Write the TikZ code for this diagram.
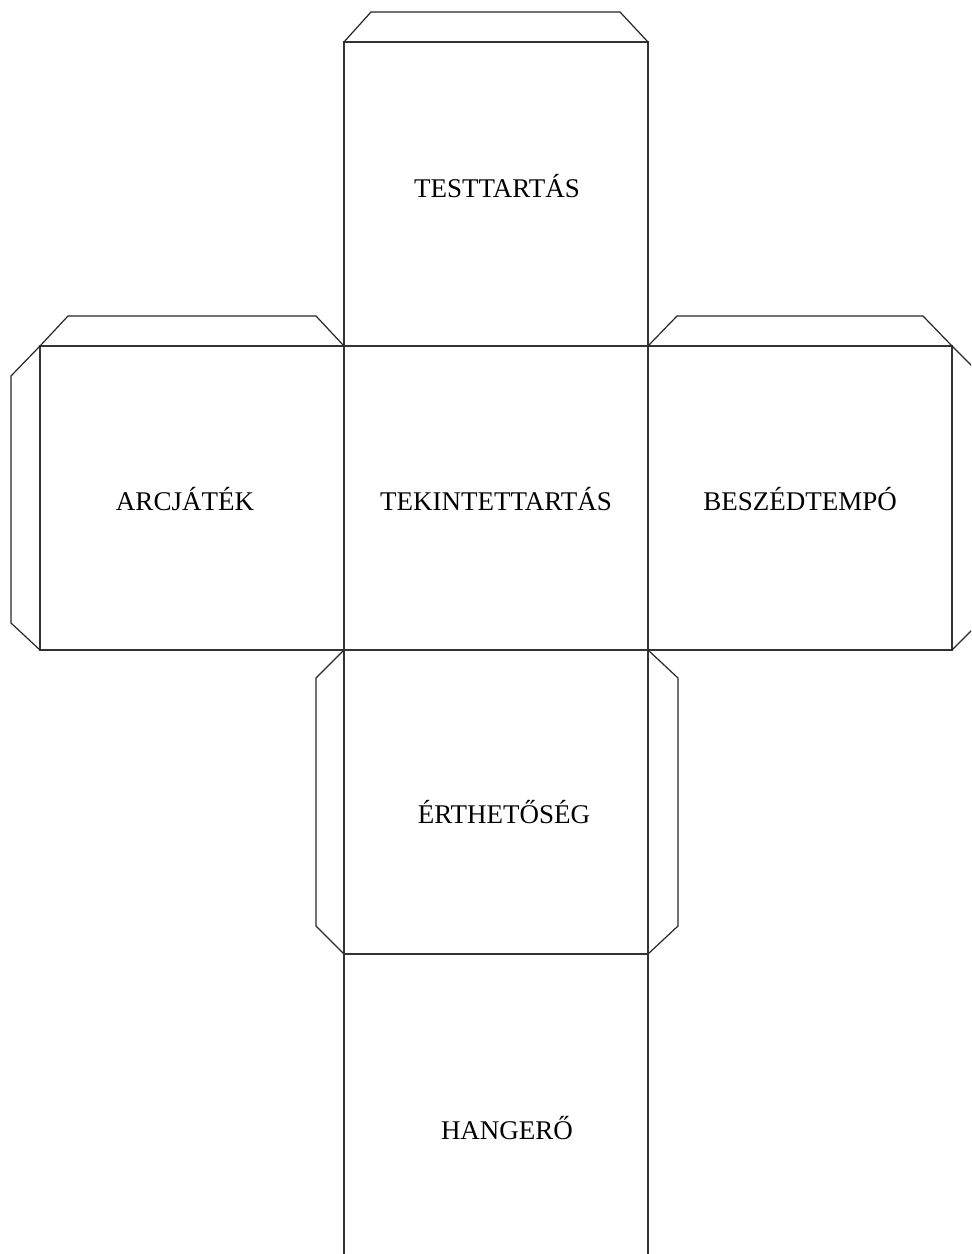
\documentclass[tikz,border=0pt]{standalone}
\usepackage{fontspec}
\setmainfont{Liberation Serif}

\tikzset{
  face/.style={draw=black!80, line width=0.6pt},
  flap/.style={draw=black!85, line width=0.6pt},
  facetext/.style={anchor=base, font=\fontsize{13.5}{16}\selectfont}
}

\begin{document}
\begin{tikzpicture}[x=0.5pt, y=-0.5pt]
		\useasboundingbox (0,0) rectangle (971,1254);
		\clip (0,0) rectangle (971,1254);
		% faces of the cube
		\foreach \x in {(344, 42), (40, 346), (344, 346), (648, 346), (344, 650), (344, 954)}
			\draw[face] \x rectangle + (304, 304);
		% glue flaps
		\draw[flap] (344,42) -- (371,12) -- (620,12) -- (648,42);
		\draw[flap] (40,346) -- (68,316) -- (316,316) -- (344,346);
		\draw[flap] (648,346) -- (677,316) -- (923,316) -- (952,346);
		\draw[flap] (40,346) -- (11,376) -- (11,623) -- (40,650);
		\draw[flap] (952,346) -- (981,375) -- (981,621) -- (952,650);
		\draw[flap] (344,650) -- (316,678) -- (316,926) -- (344,954);
		\draw[flap] (648,650) -- (678,678) -- (678,926) -- (648,954);
		% labels
		\node[facetext] (testtartas) at (497,197) {TESTTARTÁS};
		\node[facetext] (arcjatek) at (185,510) {ARCJÁTÉK};
		\node[facetext] (tekintet) at (496,510) {TEKINTETTARTÁS};
		\node[facetext] (beszed) at (800,510) {BESZÉDTEMPÓ};
		\node[facetext] (erthetoseg) at (504,823) {ÉRTHETŐSÉG};
		\node[facetext] (hangero) at (507,1139) {HANGERŐ};
	\end{tikzpicture}
\end{document}
